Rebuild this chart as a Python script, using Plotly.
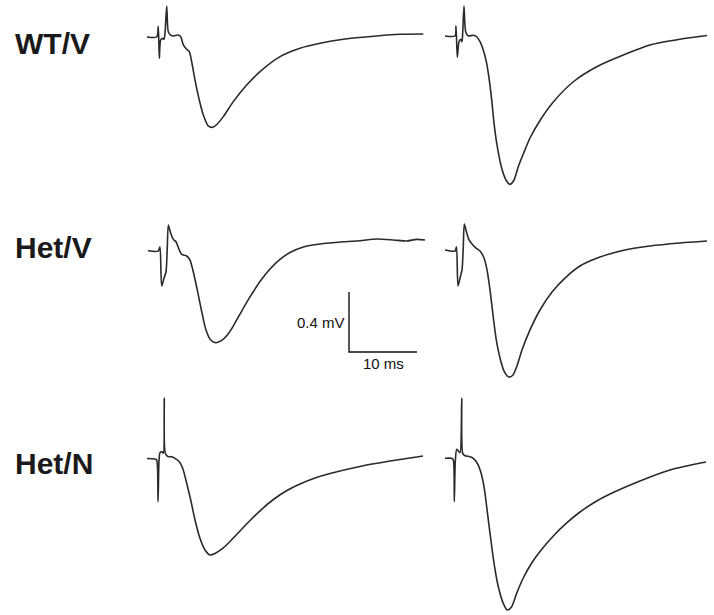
import plotly.graph_objects as go

# ---- recorded field potentials: time (ms from sweep start), voltage (mV re. baseline) ----
# WT/V, left column
wtv_a_t = [0.0, 1.43, 1.66, 1.81, 2.01, 2.31, 2.5, 2.65, 2.90, 3.13, 3.49, 3.87, 4.60, 4.96,
           5.34, 5.84, 6.22, 6.57, 7.06, 7.69, 8.28, 9.01, 9.66, 10.34, 11.22, 12.69, 14.66,
           16.62, 19.56, 22.5, 25.44, 28.87, 33.78, 37.21, 40.63]
wtv_a_mv = [0.0, 0.0, 0.069, -0.142, -0.02, -0.009, -0.015, 0.027, 0.207, 0.035, 0.013, 0.007,
            0.013, 0.002, -0.053, -0.082, -0.098, -0.165, -0.287, -0.42, -0.52, -0.593, -0.602,
            -0.58, -0.531, -0.431, -0.32, -0.231, -0.131, -0.075, -0.042, -0.015, 0.007, 0.018, 0.02]

# WT/V, right column
wtv_b_t = [0.0, 1.47, 1.62, 1.81, 2.06, 2.31, 2.5, 2.6, 2.79, 3.04, 3.43, 4.16, 4.66, 5.15,
           5.63, 6.13, 6.51, 6.87, 7.21, 7.69, 8.34, 8.97, 9.56, 10.15, 10.78, 11.51, 12.5,
           13.97, 15.93, 18.87, 22.31, 26.22, 30.15, 34.56, 38.53]
wtv_b_mv = [0.0, 0.0, 0.067, -0.142, -0.038, -0.022, -0.038, 0.018, 0.2, 0.029, 0.0, 0.005,
            -0.005, -0.038, -0.093, -0.182, -0.293, -0.427, -0.582, -0.738, -0.882, -0.96,
            -0.989, -0.96, -0.871, -0.787, -0.68, -0.563, -0.44, -0.305, -0.205, -0.127,
            -0.06, -0.022, 0.003]

# Het/V, left column
hetv_a_t = [0.0, 1.51, 1.76, 2.01, 2.35, 2.65, 2.84, 2.99, 3.34, 3.72, 4.12, 4.6, 4.96, 5.69,
            6.18, 6.66, 7.25, 7.9, 8.53, 9.22, 10.0, 10.84, 11.66, 12.54, 13.78, 15.0, 16.47,
            17.94, 19.41, 20.88, 22.84, 25.29, 28.72, 31.18, 33.63, 36.07, 38.04, 39.51, 40.74]
hetv_a_mv = [-0.005, -0.007, 0.022, -0.24, -0.189, -0.145, 0.022, 0.167, 0.111, 0.071, 0.055,
             0.0, -0.029, -0.04, -0.067, -0.145, -0.267, -0.411, -0.533, -0.6, -0.618, -0.603,
             -0.567, -0.507, -0.407, -0.313, -0.21, -0.127, -0.063, -0.017, 0.02, 0.04, 0.055,
             0.062, 0.073, 0.067, 0.06, 0.071, 0.067]

# Het/V, right column
hetv_b_t = [0.0, 1.47, 1.69, 1.91, 2.21, 2.5, 2.69, 2.84, 3.16, 3.53, 3.97, 4.56, 5.15, 5.74,
            6.18, 6.62, 7.06, 7.5, 8.09, 8.68, 9.41, 10.0, 10.59, 11.32, 12.5, 13.97, 15.74,
            17.65, 19.85, 22.79, 26.47, 30.15, 34.56, 38.53]
hetv_b_mv = [0.0, -0.007, 0.022, -0.24, -0.187, -0.133, 0.022, 0.173, 0.12, 0.067, 0.04, 0.013,
             -0.007, -0.053, -0.133, -0.267, -0.433, -0.587, -0.72, -0.807, -0.847, -0.833,
             -0.773, -0.667, -0.533, -0.4, -0.28, -0.187, -0.107, -0.047, 0.0, 0.027, 0.047, 0.06]

# Het/N, left column
hetn_a_t = [0.0, 1.18, 1.43, 1.62, 1.76, 1.91, 2.21, 2.4, 2.54, 2.69, 3.13, 3.63, 4.12, 4.75,
            5.25, 5.84, 6.43, 7.06, 7.79, 8.53, 9.26, 10.0, 11.03, 12.21, 13.68, 15.15, 16.91,
            18.68, 20.59, 22.5, 24.71, 26.91, 31.32, 35.74, 40.59]
hetn_a_mv = [0.0, -0.003, -0.01, -0.288, -0.021, 0.039, 0.045, 0.035, 0.401, 0.035, 0.012,
             0.012, 0.001, -0.021, -0.065, -0.165, -0.277, -0.41, -0.532, -0.61, -0.643, -0.633,
             -0.603, -0.553, -0.483, -0.413, -0.337, -0.270, -0.213, -0.170, -0.130, -0.100,
             -0.053, -0.017, 0.017]

# Het/N, right column
hetn_b_t = [0.0, 0.99, 1.22, 1.37, 1.51, 1.72, 1.96, 2.21, 2.46, 2.6, 2.94, 3.68, 4.16, 4.75,
            5.25, 5.74, 6.13, 6.62, 7.21, 7.84, 8.57, 9.16, 9.81, 10.54, 11.51, 12.75, 13.97,
            15.93, 17.9, 19.85, 22.06, 24.26, 28.68, 33.09, 38.38]
hetn_b_mv = [0.0, 0.0, -0.011, -0.289, -0.023, 0.06, 0.049, 0.037, 0.4, 0.033, 0.017, 0.011,
             0.0, -0.033, -0.089, -0.189, -0.323, -0.5, -0.7, -0.856, -0.967, -1.011, -0.989,
             -0.9, -0.798, -0.698, -0.621, -0.518, -0.431, -0.358, -0.291, -0.238, -0.151,
             -0.078, -0.025]

row_labels = ["WT/V", "Het/V", "Het/N"]

# calibration bar
scale_ms = 10
scale_mv = 0.4
scale_ms_label = "10 ms"
scale_mv_label = "0.4 mV"

# ---- page geometry (pixels) ----
W, H = 714, 615
PX_PER_MS = 6.8
PX_PER_MV = 150.0

col_px = [(140, 432), (436, 714)]
row_px = [(0, 196), (198, 391), (392, 615)]
# sweep origin (start time, baseline) of each panel in pixels: [row][col]
origin_px = [[(147, 37), (445, 36)],
             [(148, 250), (445, 250)],
             [(147, 458.5), (445, 458.3)]]

panels = [[(wtv_a_t, wtv_a_mv), (wtv_b_t, wtv_b_mv)],
          [(hetv_a_t, hetv_a_mv), (hetv_b_t, hetv_b_mv)],
          [(hetn_a_t, hetn_a_mv), (hetn_b_t, hetn_b_mv)]]

fig = go.Figure()
layout_axes = {}
trace_color = "#2a2a2a"
font_family = "Liberation Sans, Arial"

n = 0
for r in range(3):
    for c in range(2):
        n += 1
        xname = "xaxis" if n == 1 else f"xaxis{n}"
        yname = "yaxis" if n == 1 else f"yaxis{n}"
        xref = "x" if n == 1 else f"x{n}"
        yref = "y" if n == 1 else f"y{n}"
        L, R = col_px[c]
        T, B = row_px[r]
        x0, y0 = origin_px[r][c]
        layout_axes[xname] = dict(
            domain=[L / W, R / W],
            range=[(L - x0) / PX_PER_MS, (R - x0) / PX_PER_MS],
            visible=False, anchor=yref, fixedrange=True)
        layout_axes[yname] = dict(
            domain=[1 - B / H, 1 - T / H],
            range=[(y0 - B) / PX_PER_MV, (y0 - T) / PX_PER_MV],
            visible=False, anchor=xref, fixedrange=True)
        t, mv = panels[r][c]
        fig.add_trace(go.Scatter(
            x=t, y=mv, mode="lines", xaxis=xref, yaxis=yref,
            line=dict(color=trace_color, width=1.6, shape="spline", smoothing=0.7),
            hoverinfo="skip", showlegend=False))
        if r == 1 and c == 0:
            # calibration bar drawn in the Het/V left panel's units
            bx, by = 29.56, -0.68
            fig.add_trace(go.Scatter(
                x=[bx, bx, bx + scale_ms], y=[by + scale_mv, by, by],
                mode="lines", xaxis=xref, yaxis=yref,
                line=dict(color="#111111", width=1.4),
                hoverinfo="skip", showlegend=False))
            fig.add_annotation(x=bx, y=by + scale_mv / 2, xref=xref, yref=yref,
                               text=scale_mv_label, showarrow=False, xanchor="right",
                               yanchor="middle", xshift=-2,
                               font=dict(family=font_family, size=15, color="#111111"))
            fig.add_annotation(x=bx + scale_ms / 2, y=by, xref=xref, yref=yref,
                               text=scale_ms_label, showarrow=False, xanchor="center",
                               yanchor="top", yshift=-1,
                               font=dict(family=font_family, size=15, color="#111111"))

# row labels
label_y_px = [43, 247, 463]
for lbl, ypx in zip(row_labels, label_y_px):
    fig.add_annotation(x=13 / W, y=1 - ypx / H, xref="paper", yref="paper",
                       text=f"<b>{lbl}</b>", showarrow=False, xanchor="left", yanchor="middle",
                       font=dict(family=font_family, size=30, color="#1a1a1a"))

fig.update_layout(
    width=W, height=H,
    margin=dict(l=0, r=0, t=0, b=0),
    paper_bgcolor="white", plot_bgcolor="rgba(0,0,0,0)",
    showlegend=False,
    **layout_axes)

fig.write_html("out.html", config={"displayModeBar": False})
